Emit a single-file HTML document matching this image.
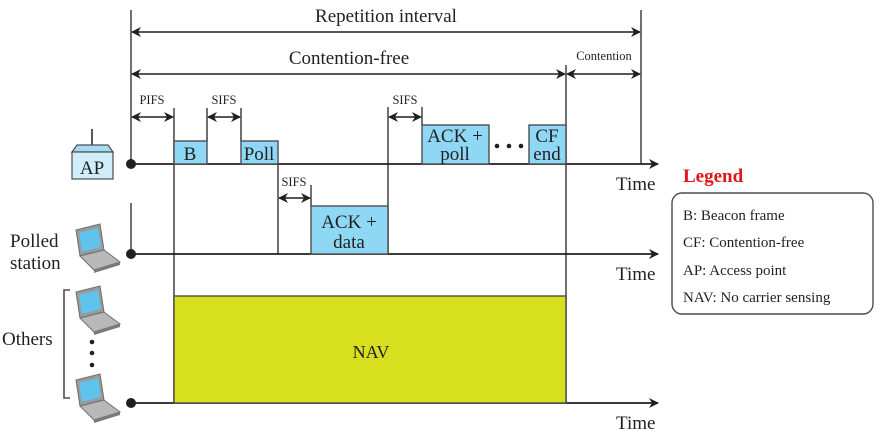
<!DOCTYPE html>
<html><head><meta charset="utf-8"><style>
html,body{margin:0;padding:0;background:#fff;}
svg{display:block;}
text{font-family:"Liberation Serif",serif;fill:#231f20;}
</style></head><body>
<svg width="883" height="431" viewBox="0 0 883 431" xmlns="http://www.w3.org/2000/svg">
<defs>
<marker id="a" viewBox="0 0 10 10" refX="9" refY="5" markerWidth="10" markerHeight="10" markerUnits="userSpaceOnUse" orient="auto-start-reverse">
<path d="M0,0 L10,5 L0,10 L3,5 Z" fill="#231f20"/></marker>
<g id="lap">
<path d="M6,2 L30,-4 L34,22 L10,28 Z" fill="#9a9a9a" stroke="#6d6e71" stroke-width="1"/>
<path d="M9,5 L28,0 L31,19 L12,24 Z" fill="#5fc3ee"/>
<path d="M10,28 L34,22 L50,34 L24,42 Z" fill="#b8b8b8" stroke="#6d6e71" stroke-width="1"/>
<path d="M24,42 L50,34 L50,37 L24,45 Z" fill="#7a7a7a"/>
</g>
</defs>
<g stroke="#4d4d4f" stroke-width="1.6" fill="none">
<line x1="131" y1="10" x2="131" y2="164"/>
<line x1="641" y1="10" x2="641" y2="164"/>
<line x1="566" y1="65" x2="566" y2="403"/>
<line x1="174" y1="108" x2="174" y2="403"/>
<line x1="207" y1="108" x2="207" y2="141"/>
<line x1="241" y1="108" x2="241" y2="141"/>
<line x1="278" y1="164" x2="278" y2="254"/>
<line x1="311" y1="185" x2="311" y2="206"/>
<line x1="388" y1="107" x2="388" y2="254"/>
<line x1="422" y1="107" x2="422" y2="125"/>
<line x1="131" y1="203" x2="131" y2="254"/>
<path d="M70,290 H64 V398 H70"/>
</g>
<g stroke="#231f20" stroke-width="1.8">
<line x1="131" y1="164" x2="658" y2="164" marker-end="url(#a)"/>
<line x1="131" y1="254" x2="658" y2="254" marker-end="url(#a)"/>
<line x1="131" y1="403" x2="658" y2="403" marker-end="url(#a)"/>
</g>
<g stroke="#231f20" stroke-width="1.5">
<line x1="132" y1="32" x2="640" y2="32" marker-start="url(#a)" marker-end="url(#a)"/>
<line x1="132" y1="74" x2="565" y2="74" marker-start="url(#a)" marker-end="url(#a)"/>
<line x1="567" y1="74" x2="640" y2="74" marker-start="url(#a)" marker-end="url(#a)"/>
<line x1="132" y1="117" x2="173" y2="117" marker-start="url(#a)" marker-end="url(#a)"/>
<line x1="208" y1="117" x2="240" y2="117" marker-start="url(#a)" marker-end="url(#a)"/>
<line x1="389" y1="117" x2="421" y2="117" marker-start="url(#a)" marker-end="url(#a)"/>
<line x1="279" y1="198" x2="310" y2="198" marker-start="url(#a)" marker-end="url(#a)"/>
</g>
<circle cx="131" cy="164" r="5" fill="#231f20"/>
<circle cx="131" cy="254" r="5" fill="#231f20"/>
<circle cx="131" cy="403" r="5" fill="#231f20"/>
<g fill="#8ed8f5" stroke="#4d4d4f" stroke-width="1.4">
<rect x="174" y="141" width="33" height="23"/>
<rect x="241" y="141" width="37" height="23"/>
<rect x="311" y="206" width="77" height="48"/>
<rect x="422" y="125" width="67" height="39"/>
<rect x="529" y="125" width="37" height="39"/>
</g>
<rect x="174" y="296" width="392" height="107" fill="#d8df1f" stroke="#4d4d4f" stroke-width="1.4"/>
<g font-size="19" text-anchor="middle">
<text x="190" y="160">B</text>
<text x="259" y="160">Poll</text>
<text x="349" y="228">ACK +</text>
<text x="349" y="248">data</text>
<text x="455" y="142">ACK +</text>
<text x="455" y="160">poll</text>
<text x="547" y="142">CF</text>
<text x="547" y="160">end</text>
<text x="371" y="358" font-size="18">NAV</text>
<text x="386" y="22" font-size="19">Repetition interval</text>
<text x="349" y="64" font-size="19">Contention-free</text>
</g>
<g font-size="12.5" text-anchor="middle">
<text x="152" y="104">PIFS</text>
<text x="224" y="104">SIFS</text>
<text x="405" y="104">SIFS</text>
<text x="294" y="186">SIFS</text>
<text x="604" y="60">Contention</text>
</g>
<g fill="#231f20"><circle cx="497" cy="146" r="2.3"/><circle cx="509" cy="146" r="2.3"/><circle cx="521" cy="146" r="2.3"/>
<circle cx="92" cy="342" r="2.3"/><circle cx="92" cy="353" r="2.3"/><circle cx="92" cy="365" r="2.3"/></g>
<g font-size="19">
<text x="616" y="190">Time</text>
<text x="616" y="280">Time</text>
<text x="616" y="429">Time</text>
<text x="10" y="247">Polled</text>
<text x="10" y="269">station</text>
<text x="2" y="345">Others</text>
</g>
<line x1="92" y1="129" x2="92" y2="146" stroke="#231f20" stroke-width="1.5"/>
<path d="M77,145 L108,145 L113,152 L72,152 Z" fill="#a6dcf3" stroke="#4d4d4f" stroke-width="1.2"/>
<rect x="72" y="152" width="41" height="27" fill="#cfeefa" stroke="#4d4d4f" stroke-width="1.2"/>
<text x="92" y="174" font-size="19" text-anchor="middle">AP</text>
<use href="#lap" x="70" y="228"/>
<use href="#lap" x="70" y="290"/>
<use href="#lap" x="70" y="378"/>
<text x="683" y="182" font-size="19" font-weight="bold" style="fill:#e0161b">Legend</text>
<rect x="672" y="193" width="201" height="121" rx="10" fill="#fff" stroke="#4d4d4f" stroke-width="1.4"/>
<g font-size="15">
<text x="683" y="220">B: Beacon frame</text>
<text x="683" y="247">CF: Contention-free</text>
<text x="683" y="275">AP: Access point</text>
<text x="683" y="302">NAV: No carrier sensing</text>
</g>
</svg>
</body></html>
